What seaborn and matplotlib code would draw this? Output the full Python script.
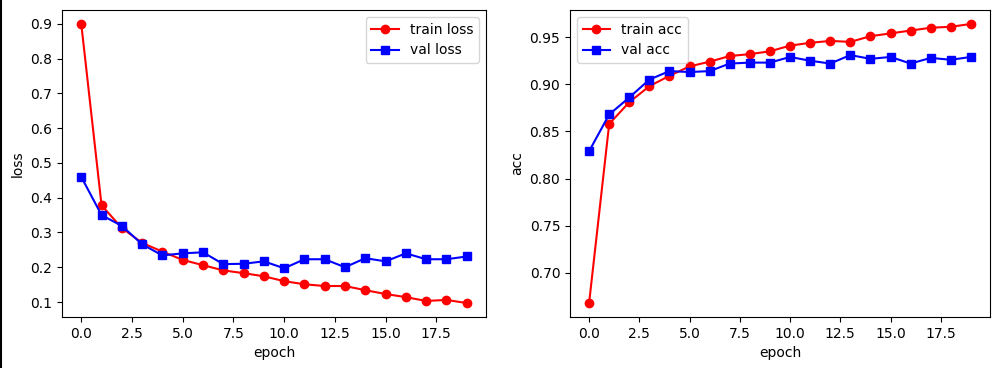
import matplotlib
matplotlib.use("Agg")
import matplotlib.pyplot as plt
import seaborn as sns
from matplotlib.lines import Line2D

epochs = list(range(20))
train_loss = [0.900, 0.378, 0.313, 0.270, 0.245, 0.221, 0.206, 0.191, 0.183, 0.174,
              0.160, 0.151, 0.146, 0.146, 0.134, 0.123, 0.114, 0.103, 0.106, 0.097]
val_loss = [0.460, 0.350, 0.319, 0.266, 0.234, 0.240, 0.243, 0.209, 0.210, 0.217,
            0.197, 0.223, 0.223, 0.200, 0.226, 0.217, 0.240, 0.223, 0.223, 0.231]
train_acc = [0.668, 0.858, 0.881, 0.898, 0.909, 0.919, 0.924, 0.930, 0.932, 0.935,
             0.941, 0.944, 0.946, 0.945, 0.951, 0.954, 0.957, 0.960, 0.961, 0.964]
val_acc = [0.829, 0.868, 0.886, 0.905, 0.914, 0.913, 0.914, 0.922, 0.923, 0.923,
           0.929, 0.925, 0.922, 0.931, 0.927, 0.929, 0.922, 0.928, 0.926, 0.929]

fig = plt.figure(figsize=(10.01, 3.68), dpi=100)
ax1 = fig.add_axes([62/1001, 1-317/368, (486-62)/1001, (317-10)/368])
ax2 = fig.add_axes([570/1001, 1-317/368, (990-570)/1001, (317-10)/368])

kw = dict(markersize=6, markeredgewidth=1)
sns.lineplot(x=epochs, y=train_loss, ax=ax1, color="red", marker="o",
             markeredgecolor="red", label="train loss", **kw)
sns.lineplot(x=epochs, y=val_loss, ax=ax1, color="blue", marker="s",
             markeredgecolor="blue", label="val loss", **kw)
ax1.set_xlabel("epoch")
ax1.set_ylabel("loss")
ax1.legend(loc="upper right")

sns.lineplot(x=epochs, y=train_acc, ax=ax2, color="red", marker="o",
             markeredgecolor="red", label="train acc", **kw)
sns.lineplot(x=epochs, y=val_acc, ax=ax2, color="blue", marker="s",
             markeredgecolor="blue", label="val acc", **kw)
ax2.set_xlabel("epoch")
ax2.set_ylabel("acc")
ax2.legend(loc="upper left")

fig.add_artist(Line2D([0.5/1001, 0.5/1001], [0, 1], transform=fig.transFigure,
                      color="black", linewidth=1.5))

fig.savefig("out.png", dpi=100)
